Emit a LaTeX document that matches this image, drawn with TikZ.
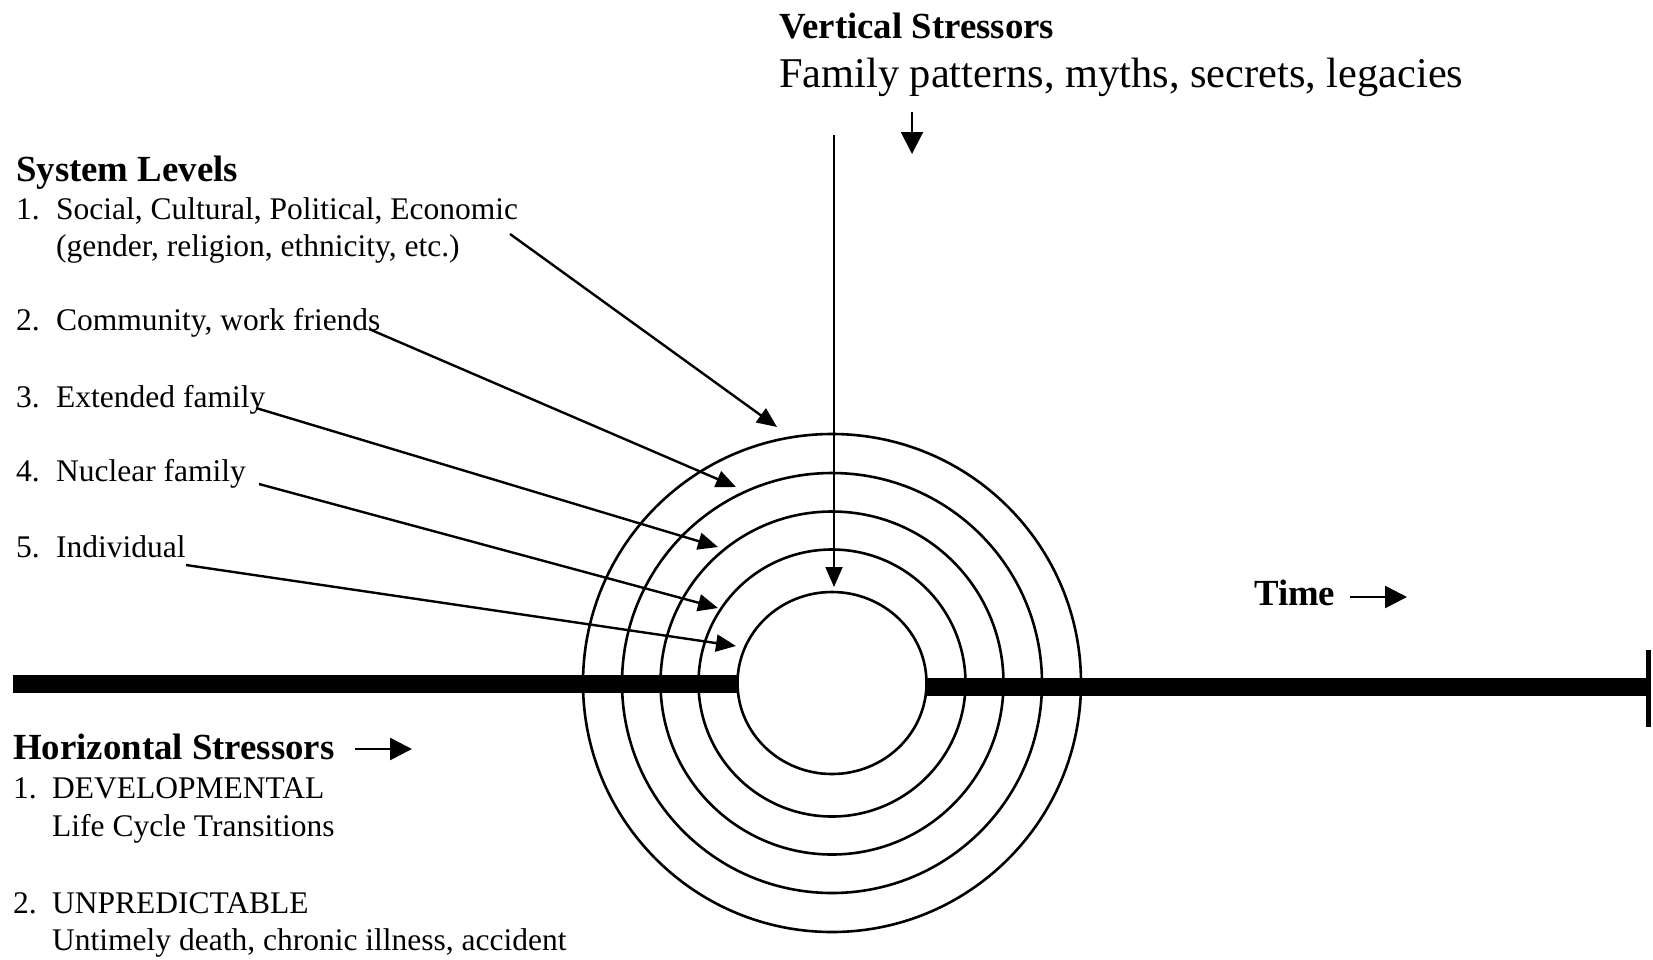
\documentclass[tikz,border=0pt]{standalone}
\usepackage{fontspec}
\setmainfont{Liberation Serif}
\usetikzlibrary{arrows.meta,shapes.geometric}
\begin{document}
\begin{tikzpicture}[x=1pt,y=-1pt,
  txt/.style={anchor=base west,inner sep=0pt,font=\fontsize{31.5}{36}\selectfont},
  head/.style={anchor=base west,inner sep=0pt,font=\fontsize{36.8}{42}\selectfont\bfseries},
  big/.style={anchor=base west,inner sep=0pt,font=\fontsize{42.4}{48}\selectfont},
  ring/.style={draw,circle,line width=2.6pt,inner sep=0pt},
  ptr/.style={line width=2.4pt,-{Triangle[length=20pt,width=17pt]}},
  smallptr/.style={line width=2.6pt,-{Triangle[length=22pt,width=22pt]}},
  timeline/.style={line width=18pt}
]
\useasboundingbox (0,0) rectangle (1653,959);
% timeline
\coordinate (tlL) at (13,683.5);
\coordinate (tlM) at (832,683.5);
\coordinate (tlR) at (1650,687);
\draw[timeline] (tlL) -- (tlM |- tlL);
\draw[timeline] (tlM |- tlR) -- (tlR);
\coordinate (tickT) at (1648,650);
\coordinate (tickB) at (1648,727);
\draw[line width=5pt] (tickT) -- (tickB);
% rings
\node[ring,minimum size=498pt] (r1) at (832,683) {};
\node[ring,minimum size=420pt] (r2) at (832,683) {};
\node[ring,minimum size=343pt] (r3) at (832,683) {};
\node[ring,minimum size=267pt] (r4) at (832,683) {};
\node[draw,ellipse,line width=2.6pt,fill=white,minimum width=189pt,minimum height=182pt,inner sep=0pt] (r5) at (832,683) {};
% headings and texts
\node[head] (vs) at (779,38) {Vertical Stressors};
\node[big] (vsd) at (779,87) {Family patterns, myths, secrets, legacies};
\node[head] (sl) at (16,181) {System Levels};
\node[txt] (l1) at (16,219) {\makebox[40pt][l]{1.}Social, Cultural, Political, Economic};
\node[txt] (l1b) at (56,256) {(gender, religion, ethnicity, etc.)};
\node[txt] (l2) at (16,330) {\makebox[40pt][l]{2.}Community, work friends};
\node[txt] (l3) at (16,407) {\makebox[40pt][l]{3.}Extended family};
\node[txt] (l4) at (16,481) {\makebox[40pt][l]{4.}Nuclear family};
\node[txt] (l5) at (16,557) {\makebox[40pt][l]{5.}Individual};
\node[head] (hs) at (13,759) {Horizontal Stressors};
\node[txt] (h1) at (13,798) {\makebox[39pt][l]{1.}DEVELOPMENTAL};
\node[txt] (h1b) at (52,836) {Life Cycle Transitions};
\node[txt] (h2) at (13,913) {\makebox[39pt][l]{2.}UNPREDICTABLE};
\node[txt] (h2b) at (52,950) {Untimely death, chronic illness, accident};
\node[head] (tm) at (1254,605) {Time};
% small arrows
\coordinate (vsA) at (912,112);
\coordinate (vsB) at (912,154);
\draw[smallptr,line width=2pt] (vsA) -- (vsB);
\coordinate (hsA) at (355,749);
\coordinate (hsB) at (412,749);
\draw[smallptr] (hsA) -- (hsB);
\coordinate (tmA) at (1350,597);
\coordinate (tmB) at (1407,597);
\draw[smallptr] (tmA) -- (tmB);
% vertical stressor arrow
\coordinate (vTop) at (834,135);
\coordinate (vTip) at (834,587);
\draw[ptr,line width=2pt] (vTop) -- (vTip);
% system level arrows
\coordinate (s1) at (510,234);  \coordinate (t1) at (777,427);
\coordinate (s2) at (369,329);  \coordinate (t2) at (736,487);
\coordinate (s3) at (256,408);  \coordinate (t3) at (718,547);
\coordinate (s4) at (259,484);  \coordinate (t4) at (718,608);
\coordinate (s5) at (186,565);  \coordinate (t5) at (736,646);
\draw[ptr] (s1) -- (t1);
\draw[ptr] (s2) -- (t2);
\draw[ptr] (s3) -- (t3);
\draw[ptr] (s4) -- (t4);
\draw[ptr] (s5) -- (t5);
\end{tikzpicture}
\end{document}
